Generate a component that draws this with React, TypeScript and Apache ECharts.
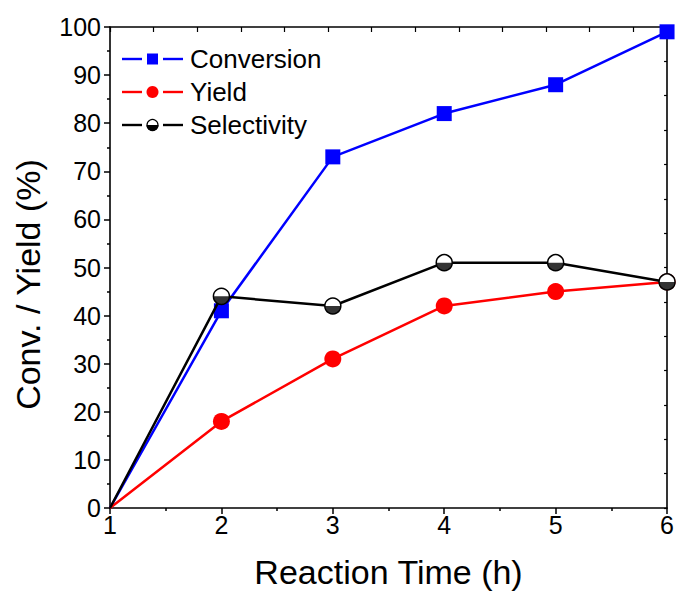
import React, { useEffect, useRef } from "react";
import * as echarts from "echarts";

const timeHours = [1, 2, 3, 4, 5, 6];
const conversion = [0, 41, 73, 82, 88, 99];
const yieldValues = [0, 18, 31, 42, 45, 47];
const selectivity = [0, 44, 42, 51, 51, 47];
const seriesNames = ["Conversion", "Yield", "Selectivity"];
const xAxisTitle = "Reaction Time (h)";
const yAxisTitle = "Conv. / Yield (%)";

const FONT = "'Liberation Sans', Arial, sans-serif";
const HALF_DISK = "path://M0,0A10,10,0,0,0,20,0Z";

function pairs(vals: number[], hideFirst: boolean) {
  return vals.map((v, i) =>
    hideFirst && i === 0
      ? { value: [timeHours[i], v], symbol: "none" }
      : { value: [timeHours[i], v] }
  );
}

export default function App() {
  const ref = useRef<HTMLDivElement>(null);
  useEffect(() => {
    if (!ref.current) return;
    const chart = echarts.init(ref.current, null, { renderer: "svg" });
    const gridLeft = 110;
    const gridTop = 27;
    const gridW = 562;
    const gridH = 484;
    const axisLine = { show: true, onZero: false, lineStyle: { color: "#000", width: 1.6 } };

    const legendRows = [
      { y: 59, color: "#0000ff", kind: "square" },
      { y: 92, color: "#ff0000", kind: "circle" },
      { y: 125, color: "#000000", kind: "half" },
    ];
    const legendGraphics: any[] = [];
    legendRows.forEach((r, i) => {
      legendGraphics.push({
        type: "line",
        shape: { x1: 122, y1: r.y, x2: 142, y2: r.y },
        style: { stroke: r.color, lineWidth: 2.4 },
      });
      legendGraphics.push({
        type: "line",
        shape: { x1: 163, y1: r.y, x2: 183, y2: r.y },
        style: { stroke: r.color, lineWidth: 2.4 },
      });
      if (r.kind === "square") {
        legendGraphics.push({
          type: "rect",
          shape: { x: 147, y: r.y - 5.5, width: 11, height: 11 },
          style: { fill: r.color },
        });
      } else if (r.kind === "circle") {
        legendGraphics.push({
          type: "circle",
          shape: { cx: 152.5, cy: r.y, r: 6 },
          style: { fill: r.color },
        });
      } else {
        legendGraphics.push({
          type: "circle",
          shape: { cx: 152.5, cy: r.y, r: 5.5 },
          style: { fill: "#fff", stroke: "#000", lineWidth: 1.2 },
        });
        legendGraphics.push({
          type: "sector",
          shape: { cx: 152.5, cy: r.y, r: 6, startAngle: 0, endAngle: Math.PI, clockwise: true },
          style: { fill: "#000" },
        });
      }
      legendGraphics.push({
        type: "text",
        x: 190,
        y: r.y,
        style: {
          text: seriesNames[i],
          fontSize: 26,
          fontFamily: FONT,
          fill: "#000",
          verticalAlign: "middle",
          align: "left",
        },
      });
    });

    chart.setOption({
      animation: false,
      backgroundColor: "#fff",
      grid: { left: gridLeft, top: gridTop, width: gridW, height: gridH, containLabel: false },
      xAxis: [
        {
          type: "value",
          min: 1,
          max: 6,
          interval: 1,
          position: "bottom",
          axisLine,
          axisTick: { show: true, inside: false, length: 6, lineStyle: { color: "#000", width: 1.5 } },
          minorTick: { show: true, splitNumber: 2, length: 3, lineStyle: { color: "#000", width: 1.5 } },
          splitLine: { show: false },
          axisLabel: { color: "#000", fontSize: 25, fontFamily: FONT, margin: 4 },
          name: xAxisTitle,
          nameLocation: "middle",
          nameGap: 47,
          nameTextStyle: { color: "#000", fontSize: 34, fontFamily: FONT },
        },
        {
          type: "value",
          min: 0,
          max: gridW / 44,
          interval: 1,
          position: "top",
          axisLine,
          axisTick: { show: true, inside: true, length: 5, lineStyle: { color: "#000", width: 1.2 } },
          axisLabel: { show: false },
          splitLine: { show: false },
        },
      ],
      yAxis: [
        {
          type: "value",
          min: 0,
          max: 100,
          interval: 10,
          position: "left",
          axisLine,
          axisTick: { show: true, inside: false, length: 6, lineStyle: { color: "#000", width: 1.5 } },
          minorTick: { show: true, splitNumber: 2, length: 3, lineStyle: { color: "#000", width: 1.5 } },
          splitLine: { show: false },
          axisLabel: { color: "#000", fontSize: 25, fontFamily: FONT, margin: 9 },
          name: yAxisTitle,
          nameLocation: "middle",
          nameGap: 65,
          nameTextStyle: { color: "#000", fontSize: 34, fontFamily: FONT, padding: [0, 34, 0, 0] },
        },
        {
          type: "value",
          min: 0,
          max: 14,
          interval: 1,
          position: "right",
          axisLine,
          axisTick: { show: true, inside: true, length: 3, lineStyle: { color: "#000", width: 1.2 } },
          axisLabel: { show: false },
          splitLine: { show: false },
        },
      ],
      series: [
        {
          name: seriesNames[0],
          type: "line",
          data: pairs(conversion, true),
          symbol: "rect",
          symbolSize: 15,
          itemStyle: { color: "#0000ff" },
          lineStyle: { color: "#0000ff", width: 2.5 },
          clip: false,
          z: 2,
        },
        {
          name: seriesNames[1],
          type: "line",
          data: pairs(yieldValues, true),
          symbol: "circle",
          symbolSize: 17,
          itemStyle: { color: "#ff0000" },
          lineStyle: { color: "#ff0000", width: 2.5 },
          clip: false,
          z: 3,
        },
        {
          name: seriesNames[2],
          type: "line",
          data: pairs(selectivity, true),
          symbol: "circle",
          symbolSize: 16,
          itemStyle: { color: "#ffffff", borderColor: "#000", borderWidth: 1.5 },
          lineStyle: { color: "#000", width: 2.5 },
          clip: false,
          z: 4,
        },
        {
          name: seriesNames[2] + " (fill)",
          type: "scatter",
          data: pairs(selectivity, false).slice(1),
          symbol: HALF_DISK,
          symbolSize: [16, 8],
          symbolOffset: [0, 4],
          itemStyle: { color: "#000" },
          silent: true,
          z: 5,
        },
      ],
      graphic: legendGraphics,
    });
    return () => chart.dispose();
  }, []);
  return (
    <div
      ref={ref}
      style={{ position: "absolute", left: 0, top: 0, width: 677, height: 594 }}
    />
  );
}
